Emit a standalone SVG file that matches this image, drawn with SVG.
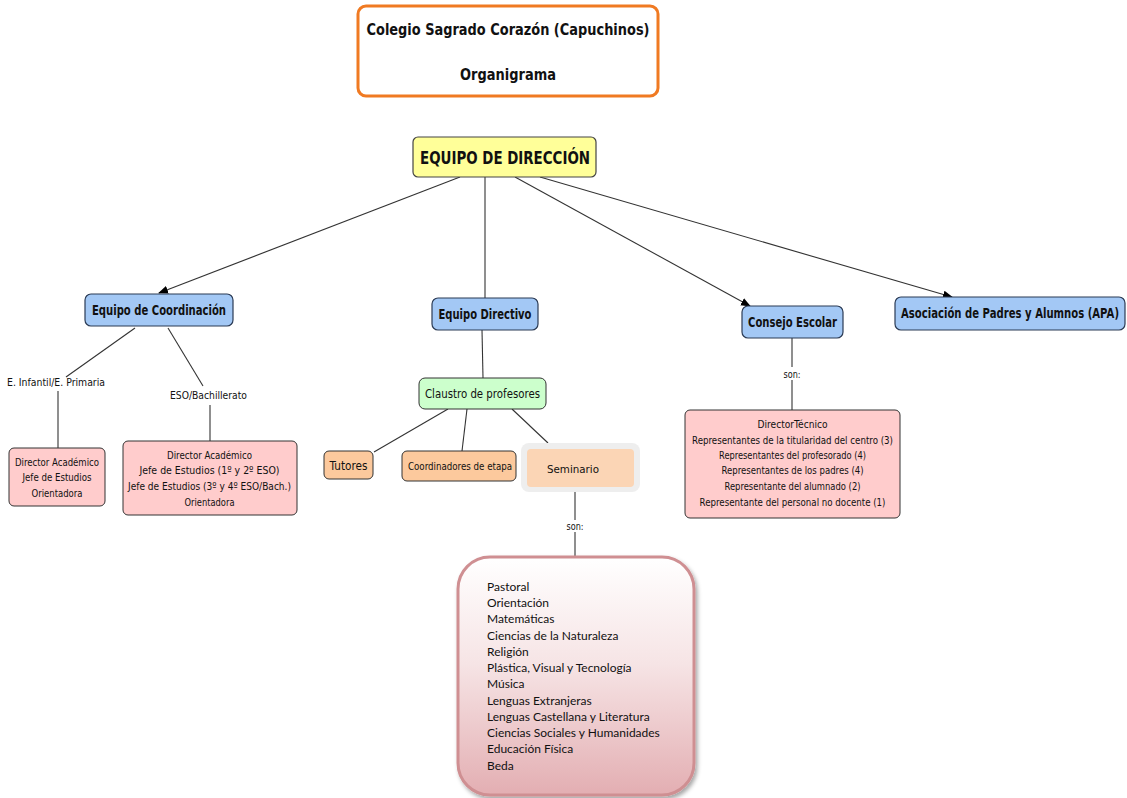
<svg xmlns="http://www.w3.org/2000/svg" width="1127" height="798" viewBox="0 0 1127 798">
<defs>
<marker id="arr" viewBox="0 0 10 10" refX="9" refY="5" markerWidth="10" markerHeight="10" markerUnits="userSpaceOnUse" orient="auto">
<path d="M0,1 L10,5 L0,9 z" fill="#000"/>
</marker>
<linearGradient id="pinkgrad" x1="0" y1="0" x2="0" y2="1">
<stop offset="0" stop-color="#ffffff"/>
<stop offset="0.45" stop-color="#f6e4e5"/>
<stop offset="1" stop-color="#e3aeb2"/>
</linearGradient>
<filter id="sh" x="-10%" y="-10%" width="130%" height="130%">
<feGaussianBlur in="SourceAlpha" stdDeviation="2"/>
<feOffset dx="2" dy="3" result="b"/>
<feFlood flood-color="#000" flood-opacity="0.35"/>
<feComposite in2="b" operator="in"/>
<feMerge><feMergeNode/><feMergeNode in="SourceGraphic"/></feMerge>
</filter>
</defs>
<style>
.t{font-family:"DejaVu Sans",sans-serif;fill:#111;text-anchor:middle}
.b{font-weight:bold}
.blue{fill:#a3c8f5;stroke:#2b3b55;stroke-width:1.2}
.pink{fill:#ffcccc;stroke:#333;stroke-width:1}
.org{fill:#fcc99d;stroke:#333;stroke-width:1}
.c{stroke:#333;stroke-width:1.1;fill:none}
.s{font-size:11px}
.lst{font-family:Lato,"Open Sans",sans-serif;font-size:12px;fill:#111}
</style>
<g id="connectors">
<line class="c" x1="460" y1="177" x2="159" y2="293" marker-end="url(#arr)"/>
<line class="c" x1="485" y1="177" x2="485" y2="298"/>
<line class="c" x1="515" y1="177" x2="750" y2="306" marker-end="url(#arr)"/>
<line class="c" x1="540" y1="177" x2="952" y2="297" marker-end="url(#arr)"/>
<line class="c" x1="135" y1="328" x2="66" y2="377"/>
<line class="c" x1="58" y1="391" x2="58" y2="448"/>
<line class="c" x1="168" y1="328" x2="203" y2="386"/>
<line class="c" x1="210" y1="405" x2="210" y2="441"/>
<line class="c" x1="482" y1="330" x2="483" y2="378"/>
<line class="c" x1="448" y1="409" x2="374" y2="452"/>
<line class="c" x1="467" y1="409" x2="462" y2="451"/>
<line class="c" x1="512" y1="409" x2="548" y2="443"/>
<line class="c" x1="575" y1="492" x2="575" y2="520"/>
<line class="c" x1="575" y1="532" x2="575" y2="556"/>
<line class="c" x1="792" y1="338" x2="792" y2="367"/>
<line class="c" x1="792" y1="380" x2="792" y2="410"/>
</g>
<g id="title">
<rect x="358" y="6" width="300" height="90" rx="8" fill="#fff" stroke="#f07a22" stroke-width="3"/>
<text class="t b" x="508" y="35" font-size="16" textLength="283" lengthAdjust="spacingAndGlyphs">Colegio Sagrado Corazón (Capuchinos)</text>
<text class="t b" x="508" y="80" font-size="16" textLength="96" lengthAdjust="spacingAndGlyphs">Organigrama</text>
</g>
<g id="direccion">
<rect x="413" y="137" width="183" height="40" rx="5" fill="#ffff99" stroke="#444" stroke-width="1.2"/>
<text class="t b" x="505" y="164" font-size="18" textLength="170" lengthAdjust="spacingAndGlyphs">EQUIPO DE DIRECCIÓN</text>
</g>
<g id="coordinacion">
<rect class="blue" x="85" y="294" width="148" height="32" rx="6"/>
<text class="t b" x="159" y="315" font-size="13.5" textLength="134" lengthAdjust="spacingAndGlyphs">Equipo de Coordinación</text>
</g>
<g id="directivo">
<rect class="blue" x="432" y="298" width="106" height="32" rx="6"/>
<text class="t b" x="485" y="319" font-size="13.5" textLength="93" lengthAdjust="spacingAndGlyphs">Equipo Directivo</text>
</g>
<g id="consejo">
<rect class="blue" x="742" y="306" width="101" height="32" rx="6"/>
<text class="t b" x="792.5" y="327" font-size="13.5" textLength="89" lengthAdjust="spacingAndGlyphs">Consejo Escolar</text>
</g>
<g id="apa">
<rect class="blue" x="895" y="297" width="230" height="33" rx="6"/>
<text class="t b" x="1010" y="318" font-size="13.5" textLength="218" lengthAdjust="spacingAndGlyphs">Asociación de Padres y Alumnos (APA)</text>
</g>
<g id="lbl-infantil">
<text class="t s" x="56" y="386" textLength="98" lengthAdjust="spacingAndGlyphs">E. Infantil/E. Primaria</text>
</g>
<g id="lbl-eso">
<text class="t s" x="208.5" y="399" textLength="77" lengthAdjust="spacingAndGlyphs">ESO/Bachillerato</text>
</g>
<g id="coord-inf">
<rect class="pink" x="9" y="448" width="96" height="58" rx="5"/>
<text class="t s" x="57" y="466" textLength="84" lengthAdjust="spacingAndGlyphs">Director Académico</text>
<text class="t s" x="57" y="481" textLength="69" lengthAdjust="spacingAndGlyphs">Jefe de Estudios</text>
<text class="t s" x="57" y="497" textLength="51" lengthAdjust="spacingAndGlyphs">Orientadora</text>
</g>
<g id="coord-eso">
<rect class="pink" x="123" y="441" width="174" height="74" rx="5"/>
<text class="t s" x="209.5" y="459" textLength="85" lengthAdjust="spacingAndGlyphs">Director Académico</text>
<text class="t s" x="209.5" y="474" textLength="140" lengthAdjust="spacingAndGlyphs">Jefe de Estudios (1º y 2º ESO)</text>
<text class="t s" x="209.5" y="490" textLength="163" lengthAdjust="spacingAndGlyphs">Jefe de Estudios (3º y 4º ESO/Bach.)</text>
<text class="t s" x="209.5" y="506" textLength="50" lengthAdjust="spacingAndGlyphs">Orientadora</text>
</g>
<g id="claustro">
<rect x="419" y="378" width="127" height="31" rx="6" fill="#ccffcc" stroke="#333" stroke-width="1"/>
<text class="t" x="482.5" y="398" font-size="13" textLength="115" lengthAdjust="spacingAndGlyphs">Claustro de profesores</text>
</g>
<g id="tutores">
<rect class="org" x="324" y="451" width="49" height="28" rx="5"/>
<text class="t" x="348.5" y="470" font-size="12.5" textLength="38" lengthAdjust="spacingAndGlyphs">Tutores</text>
</g>
<g id="coordinadores">
<rect class="org" x="402" y="451" width="114" height="30" rx="5"/>
<text class="t s" x="460" y="470" textLength="104" lengthAdjust="spacingAndGlyphs">Coordinadores de etapa</text>
</g>
<g id="seminario">
<rect x="521" y="443" width="119" height="49" rx="8" fill="#eeeeee"/>
<rect x="527" y="449" width="107" height="38" rx="4" fill="#fbd5b5"/>
<text class="t s" x="573" y="473" textLength="52" lengthAdjust="spacingAndGlyphs">Seminario</text>
</g>
<g id="lbl-son1">
<text class="t s" x="575" y="530" textLength="17" lengthAdjust="spacingAndGlyphs">son:</text>
</g>
<g id="lbl-son2">
<text class="t s" x="792" y="378" textLength="17" lengthAdjust="spacingAndGlyphs">son:</text>
</g>
<g id="consejo-list">
<rect class="pink" x="685" y="410" width="215" height="108" rx="5"/>
<text class="t s" x="792.5" y="428" textLength="70" lengthAdjust="spacingAndGlyphs">DirectorTécnico</text>
<text class="t s" x="792.5" y="444" textLength="201" lengthAdjust="spacingAndGlyphs">Representantes de la titularidad del centro (3)</text>
<text class="t s" x="792.5" y="459" textLength="147" lengthAdjust="spacingAndGlyphs">Representantes del profesorado (4)</text>
<text class="t s" x="792.5" y="474" textLength="142" lengthAdjust="spacingAndGlyphs">Representantes de los padres (4)</text>
<text class="t s" x="792.5" y="490" textLength="136" lengthAdjust="spacingAndGlyphs">Representante del alumnado (2)</text>
<text class="t s" x="792.5" y="506" textLength="186" lengthAdjust="spacingAndGlyphs">Representante del personal no docente (1)</text>
</g>
<g id="seminarios">
<rect x="458" y="557" width="236" height="238" rx="32" fill="url(#pinkgrad)" stroke="#cf8f92" stroke-width="3" filter="url(#sh)"/>
<text class="lst" x="487" y="591">Pastoral</text>
<text class="lst" x="487" y="607">Orientación</text>
<text class="lst" x="487" y="623">Matemáticas</text>
<text class="lst" x="487" y="640">Ciencias de la Naturaleza</text>
<text class="lst" x="487" y="656">Religión</text>
<text class="lst" x="487" y="672">Plástica, Visual y Tecnología</text>
<text class="lst" x="487" y="688">Música</text>
<text class="lst" x="487" y="705">Lenguas Extranjeras</text>
<text class="lst" x="487" y="721">Lenguas Castellana y Literatura</text>
<text class="lst" x="487" y="737">Ciencias Sociales y Humanidades</text>
<text class="lst" x="487" y="753">Educación Física</text>
<text class="lst" x="487" y="770">Beda</text>
</g>
</svg>
